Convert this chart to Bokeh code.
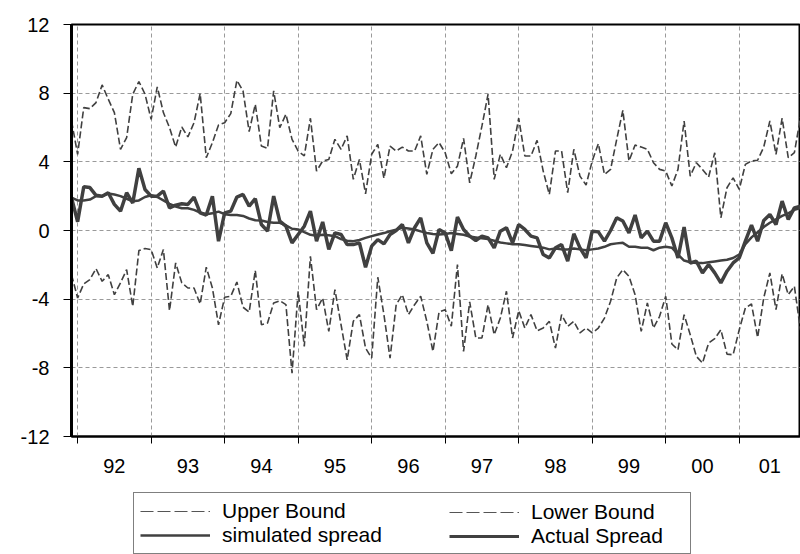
from bokeh.plotting import figure
from bokeh.layouts import column
from bokeh.models import Range1d, FixedTicker, Legend, LegendItem
from bokeh.embed import file_html
from bokeh.resources import INLINE

# Monthly observations, 1991:12 .. 2001:11
start_year, start_month = 1991, 12
year_labels = ["92", "93", "94", "95", "96", "97", "98", "99", "00", "01"]

upper_bound = [6.38, 4.44, 7.16, 7.1, 7.45, 8.48, 7.65, 6.87, 4.73, 5.41, 7.94, 8.68, 7.94, 6.48, 8.37,
               6.87, 5.99, 4.86, 6.03, 5.45, 6.28, 7.98, 4.24, 5.12, 6.15, 6.28, 6.81, 8.75, 8.13, 5.76,
               7.35, 4.92, 4.79, 8.13, 5.99, 6.77, 5.31, 4.63, 4.34, 6.54, 3.46, 4.05, 4.14, 5.31, 4.73,
               5.51, 2.98, 4.14, 2.14, 4.44, 5.02, 3.04, 4.92, 4.63, 4.86, 4.63, 4.63, 5.51, 3.27, 4.73,
               5.12, 4.53, 3.31, 3.75, 5.37, 2.78, 4.34, 6.09, 7.94, 2.98, 4.44, 3.66, 4.63, 6.54, 4.34,
               4.34, 5.25, 3.46, 2.1, 4.63, 4.63, 2.2, 4.73, 3.17, 2.65, 4.05, 5.06, 3.27, 3.56, 5.31,
               7.0, 4.05, 4.98, 4.86, 4.73, 3.95, 3.56, 3.46, 2.59, 3.56, 6.38, 3.17, 3.95, 3.56, 3.11,
               4.53, 0.74, 2.49, 3.07, 2.39, 3.85, 4.05, 4.09, 4.86, 6.38, 4.44, 6.54, 4.24, 4.53, 6.6]

lower_bound = [-2.57, -3.93, -3.11, -2.86, -2.22, -2.96, -2.57, -3.74, -3.05, -2.28, -4.42, -1.17, -1.05, -1.11, -2.18,
               -1.11, -4.67, -1.89, -3.05, -3.35, -3.35, -4.28, -2.14, -3.35, -5.49, -3.89, -3.83, -3.0, -4.47, -4.75,
               -2.33, -5.49, -5.39, -4.22, -4.09, -4.32, -8.31, -3.54, -6.75, -1.5, -4.61, -3.93, -5.88, -3.44, -5.49,
               -7.53, -5.29, -4.9, -6.85, -7.43, -2.72, -4.9, -7.43, -4.32, -3.74, -4.9, -4.32, -3.83, -5.29, -7.04,
               -4.75, -4.61, -5.58, -1.98, -7.04, -4.16, -6.26, -6.26, -4.32, -6.07, -5.1, -3.54, -6.26, -4.67, -5.68,
               -4.9, -5.84, -5.68, -5.29, -6.85, -4.9, -5.58, -5.29, -5.97, -5.68, -5.97, -5.68, -5.1, -4.12, -2.76,
               -2.28, -2.67, -3.74, -5.88, -4.22, -5.68, -5.0, -3.83, -6.61, -6.95, -4.9, -6.07, -7.33, -7.72, -6.56,
               -6.3, -5.78, -7.2, -7.24, -5.78, -4.51, -4.28, -6.23, -3.93, -2.47, -4.61, -2.53, -3.74, -3.25, -5.8]

actual_spread = [1.91, 0.51, 2.55, 2.5, 2.05, 2.0, 2.2, 1.52, 1.13, 2.2, 1.6, 3.62, 2.39, 2.0, 2.0,
                 2.3, 1.32, 1.48, 1.56, 1.52, 1.95, 1.03, 0.9, 2.0, -0.62, 1.03, 1.13, 1.95, 2.1, 1.42,
                 1.85, 0.35, -0.04, 2.0, 0.54, 0.25, -0.72, -0.23, 0.25, 1.13, -0.62, 0.5, -1.1, -0.14, -0.23,
                 -0.82, -0.82, -0.72, -2.14, -0.91, -0.53, -0.78, -0.23, 0.0, 0.35, -0.72, 0.16, 0.74, -0.72, -1.33,
                 0.06, -0.14, -1.17, 0.78, 0.06, -0.33, -0.58, -0.33, -0.43, -1.01, -0.04, 0.16, -0.72, 0.35, 0.06,
                 -0.33, -0.43, -1.4, -1.6, -1.01, -0.82, -1.79, -0.19, -1.01, -1.6, -0.04, -0.08, -0.62, 0.0, 0.74,
                 0.55, -0.14, 0.9, -0.43, -0.04, -0.62, -0.62, 0.45, -0.43, -1.6, 0.2, -1.89, -1.79, -2.47, -1.98,
                 -2.47, -3.05, -2.37, -1.89, -1.6, -0.62, 0.31, -0.62, 0.58, 0.93, 0.35, 1.71, 0.64, 1.32, 1.42]

simulated_spread = [1.91, 1.75, 1.75, 1.8, 2.0, 2.0, 2.15, 2.1, 2.0, 1.85, 1.7, 1.75, 1.95, 2.05, 1.95,
                    1.75, 1.55, 1.4, 1.3, 1.3, 1.2, 1.05, 0.95, 1.0, 1.1, 0.95, 0.9, 0.9, 0.85, 0.7,
                    0.6, 0.58, 0.5, 0.45, 0.45, 0.3, 0.1, 0.06, -0.1, -0.25, -0.3, -0.25, -0.28, -0.33, -0.5,
                    -0.6, -0.62, -0.55, -0.43, -0.33, -0.23, -0.15, -0.04, 0.05, 0.16, 0.12, 0.06, -0.05, -0.14, -0.2,
                    -0.23, -0.2, -0.15, -0.2, -0.25, -0.35, -0.4, -0.45, -0.5, -0.6, -0.7, -0.75, -0.8, -0.8, -0.85,
                    -0.9, -0.95, -1.0, -1.1, -1.05, -1.1, -1.1, -1.05, -1.1, -1.15, -1.1, -1.05, -0.95, -0.8, -0.75,
                    -0.72, -0.95, -0.95, -1.0, -1.0, -1.15, -1.0, -0.95, -1.0, -1.4, -1.75, -1.85, -1.9, -1.9, -1.85,
                    -1.8, -1.75, -1.7, -1.6, -1.4, -0.8, -0.4, -0.1, 0.2, 0.45, 0.65, 0.85, 1.0, 1.2, 1.3]

y_ticks = [-12, -8, -4, 0, 4, 8, 12]
y_tick_labels = ["-12", "-8", "-4", "0", "4", "8", "12"]
y_grid = [-8, -4, 0, 4, 8]

n = len(actual_spread)
x = list(range(n))
# index of each January in the sample
jan_idx = [i for i in x if (start_month - 1 + i) % 12 == 0]
# label positions: centred in each year's span of observations
label_pos = []
for k, j in enumerate(jan_idx):
    end = jan_idx[k + 1] if k + 1 < len(jan_idx) else n - 1
    label_pos.append((j + end) // 2)

FONT = "Liberation Sans"
LINE = "#404040"

p = figure(width=800, height=484, output_backend="svg", toolbar_location=None,
           x_range=Range1d(0, n - 1), y_range=Range1d(-12, 12),
           min_border_left=71, min_border_right=0, min_border_top=24, min_border_bottom=48,
           background_fill_color="white", border_fill_color="white")

p.outline_line_color = "black"
p.outline_line_width = 2

# axes
p.yaxis.ticker = FixedTicker(ticks=y_ticks)
p.yaxis.major_label_overrides = {t: s for t, s in zip(y_ticks, y_tick_labels)}
p.yaxis.major_tick_out = 8
p.yaxis.major_tick_in = 0
p.yaxis.minor_tick_line_color = None
p.yaxis.axis_line_width = 3
p.yaxis.axis_line_color = "black"
p.yaxis.major_tick_line_color = "black"
p.yaxis.major_label_standoff = 14
p.yaxis.major_label_text_font = FONT
p.yaxis.major_label_text_font_size = "20px"
p.yaxis.major_label_text_color = "black"

p.xaxis.ticker = FixedTicker(ticks=label_pos, minor_ticks=jan_idx)
p.xaxis.major_label_overrides = {pos: lab for pos, lab in zip(label_pos, year_labels)}
p.xaxis.major_tick_line_color = None
p.xaxis.minor_tick_line_color = "black"
p.xaxis.minor_tick_out = 7
p.xaxis.minor_tick_in = 0
p.xaxis.axis_line_color = "black"
p.xaxis.axis_line_width = 2
p.xaxis.major_label_standoff = 15
p.xaxis.major_label_text_font = FONT
p.xaxis.major_label_text_font_size = "20px"
p.xaxis.major_label_text_color = "black"

# grids
p.xgrid.ticker = FixedTicker(ticks=jan_idx)
p.ygrid.ticker = FixedTicker(ticks=y_grid)
for g in (p.xgrid, p.ygrid):
    g.grid_line_color = "#9a9a9a"
    g.grid_line_dash = "4 3"
    g.grid_line_width = 1

# series
p.line(x, upper_bound, line_color=LINE, line_width=1.6, line_dash="7 3")
p.line(x, lower_bound, line_color=LINE, line_width=1.6, line_dash="7 3")
p.line(x, simulated_spread, line_color=LINE, line_width=2.5)
p.line(x, actual_spread, line_color=LINE, line_width=3.5)

# ---- legend panel (frame aligned with the chart's frame by the column layout) ----
q = figure(width=800, height=70, output_backend="svg", toolbar_location=None,
           x_axis_location=None, y_axis_location=None,
           x_range=Range1d(0, 1), y_range=Range1d(0, 1),
           min_border_left=71, min_border_right=0, min_border_top=0, min_border_bottom=0,
           background_fill_color="white", border_fill_color="white", outline_line_color=None)
q.grid.visible = False

# legend-only renderers (hidden; their styling is shown in the legend keys)
leg_ub = q.line(upper_bound[:2], lower_bound[:2], line_color="#555555", line_width=1.2, line_dash="13 4", visible=False)
leg_lb = q.line(upper_bound[:2], lower_bound[:2], line_color="#555555", line_width=1.2, line_dash="13 4", visible=False)
leg_sim = q.line(upper_bound[:2], lower_bound[:2], line_color=LINE, line_width=2.5, visible=False)
leg_act = q.line(upper_bound[:2], lower_bound[:2], line_color=LINE, line_width=3, visible=False)

common = dict(padding=6, spacing=0, glyph_width=70, glyph_height=20, label_height=20,
              label_standoff=12, label_text_font=FONT, label_text_font_size="21px",
              label_text_line_height=1.0, label_text_color="black", margin=0,
              inactive_fill_alpha=0.0)

legA = Legend(items=[LegendItem(label="Upper Bound", renderers=[leg_ub]),
                     LegendItem(label="simulated spread", renderers=[leg_sim])],
              location=(62, 0), border_line_color="black", border_line_width=1,
              background_fill_color="white", background_fill_alpha=1.0,
              label_width=462, **common)
legB = Legend(items=[LegendItem(label="Lower Bound", renderers=[leg_lb]),
                     LegendItem(label="Actual Spread", renderers=[leg_act])],
              location=(372, 0), border_line_alpha=0, background_fill_alpha=0,
              **common)
q.add_layout(legA, "center")
q.add_layout(legB, "center")

open("out.html", "w").write(file_html(column(p, q, spacing=0), INLINE))
